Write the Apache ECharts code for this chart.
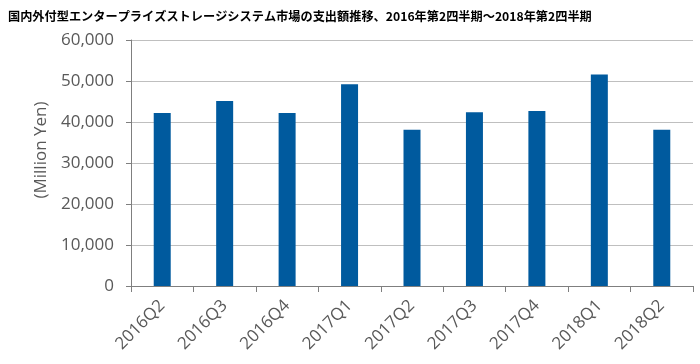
<!DOCTYPE html>
<html><head><meta charset="utf-8">
<script src="https://cdn.jsdelivr.net/npm/echarts@6/dist/echarts.min.js"></script>
<style>html,body{margin:0;padding:0;background:#fff}#c{width:700px;height:364px}</style>
</head><body><div id="c"></div>
<script>
const titleText = '国内外付型エンタープライズストレージシステム市場の支出額推移、2016年第2四半期～2018年第2四半期';
const categories = ['2016Q2','2016Q3','2016Q4','2017Q1','2017Q2','2017Q3','2017Q4','2018Q1','2018Q2'];
const values = [42200, 45100, 42200, 49200, 38100, 42400, 42700, 51600, 38100];
const yAxisName = '(Million Yen)';

const chart = echarts.init(document.getElementById('c'), null, {renderer: 'canvas'});
const labelFont = '"Open Sans", "Noto Sans", sans-serif';
chart.setOption({
  animation: false,
  title: {
    text: titleText, left: 3, top: 5,
    textStyle: {fontFamily: '"Noto Sans CJK JP", sans-serif', fontSize: 12.2, fontWeight: 'bold', color: '#000'}
  },
  grid: {left: 131, right: 7, top: 40, bottom: 78},
  xAxis: {
    type: 'category', data: categories,
    axisLine: {lineStyle: {color: '#7f7f7f', width: 1}},
    axisTick: {show: true, length: 6, lineStyle: {color: '#7f7f7f'}},
    axisLabel: {rotate: 45, fontSize: 17, color: '#595959', fontFamily: labelFont, margin: 17}
  },
  yAxis: {
    type: 'value', min: 0, max: 60000, interval: 10000,
    name: yAxisName, nameLocation: 'middle', nameGap: 78, nameRotate: 90,
    nameTextStyle: {fontSize: 17, color: '#595959', fontFamily: labelFont, padding: [0, 0, 0, 26]},
    axisLine: {show: true, lineStyle: {color: '#7f7f7f', width: 1}},
    axisTick: {show: true, length: 5, lineStyle: {color: '#7f7f7f'}},
    axisLabel: {fontSize: 17, color: '#595959', fontFamily: labelFont, margin: 17,
      formatter: v => v.toLocaleString('en-US')},
    splitLine: {lineStyle: {color: '#bfbfbf', width: 1}}
  },
  series: [{
    type: 'bar', data: values, barWidth: 17,
    itemStyle: {color: '#005a9e'}
  }]
});
</script></body></html>
